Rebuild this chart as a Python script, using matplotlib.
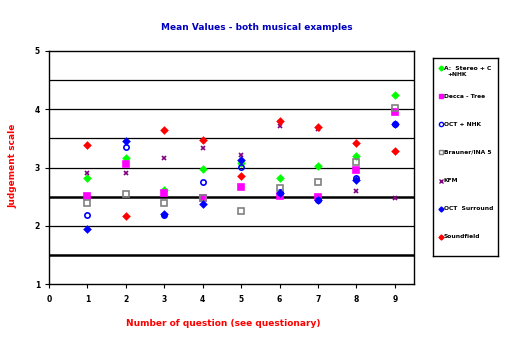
import matplotlib
matplotlib.use("Agg")
import matplotlib.pyplot as plt
import numpy as np

questions = [1, 2, 3, 4, 5, 6, 7, 8, 9]
series_names = ["A:  Stereo + C\n+NHK", "Decca - Tree", "OCT + NHK", "Brauner/INA 5",
                "KFM", "OCT  Surround", "Soundfield"]
a_stereo = [2.82, 3.17, 2.62, 2.97, 3.07, 2.82, 3.03, 3.20, 4.25]
decca = [2.51, 3.06, 2.57, 2.47, 2.67, 2.51, 2.49, 2.95, 3.95]
oct_nhk = [2.18, 3.36, 2.18, 2.75, 3.01, 2.58, 2.45, 2.82, 3.75]
brauner = [2.39, 2.54, 2.39, 2.48, 2.25, 2.65, 2.75, 3.09, 4.03]
kfm = [2.90, 2.90, 3.17, 3.33, 3.22, 3.71, 3.66, 2.59, 2.47]
oct_surround = [1.94, 3.45, 2.20, 2.37, 3.13, 2.57, 2.45, 2.78, 3.75]
soundfield = [3.39, 2.16, 3.65, 3.47, 2.85, 3.80, 3.69, 3.42, 3.29]

x_ticks = [0, 1, 2, 3, 4, 5, 6, 7, 8, 9]
y_ticks = [1, 2, 3, 4, 5]

title = "Mean Values - both musical examples"
xlabel = "Number of question (see questionary)"
ylabel = "Judgement scale"

styles = [
    dict(marker="D", color="#00ff00", mfc="#00ff00", ms=3.2),
    dict(marker="s", color="#ff00ff", mfc="#ff00ff", ms=3.8),
    dict(marker="o", color="#0000ff", mfc="none", ms=3.8),
    dict(marker="s", color="#808080", mfc="none", ms=3.8),
    dict(marker="x", color="#800080", mfc="#800080", ms=3),
    dict(marker="D", color="#0000ff", mfc="#0000ff", ms=3.2),
    dict(marker="D", color="#ff0000", mfc="#ff0000", ms=3.2),
]
data = [a_stereo, decca, oct_nhk, brauner, kfm, oct_surround, soundfield]

plt.rcParams['font.family'] = ['DejaVu Sans']
fig = plt.figure(figsize=(5.14, 3.54), dpi=100)
ax = fig.add_axes([49/514, 1-284/354, 365/514, 233/354])
ax.set_xlim(0, 9.5)
ax.set_ylim(1, 5)

for lvl in [1.5, 2, 2.5, 3, 3.5, 4, 4.5]:
    lw = 1.8 if lvl in (1.5, 2.5) else 0.9
    ax.axhline(lvl, color="black", lw=lw, zorder=1)

for vals, st in zip(data, styles):
    ax.plot(questions, vals, linestyle="none", marker=st["marker"], color=st["color"],
            mfc=st["mfc"], mec=st["color"], ms=st["ms"], mew=1.2, zorder=3)

ax.set_xticks(x_ticks)
ax.set_yticks(y_ticks)
ax.tick_params(axis="both", labelsize=5.5, length=3, width=0.8)
ax.tick_params(axis="x", direction="out", pad=5)
for lab in ax.get_xticklabels() + ax.get_yticklabels():
    lab.set_fontweight("bold")
for sp in ax.spines.values():
    sp.set_linewidth(1.0)

fig.text(257/514, 1-28/354, title, ha="center", va="center", color="#0000c0",
         fontsize=6.5, fontweight="bold")
fig.text(223/514, 1-323/354, xlabel, ha="center", va="center", color="#ff0000",
         fontsize=6.5, fontweight="bold")
fig.text(13/514, 1-166/354, ylabel, ha="center", va="center", color="#ff0000",
         fontsize=6.5, fontweight="bold", rotation=90)

# legend box
lax = fig.add_axes([433/514, 1-256/354, 65/514, 198/354])
lax.set_xlim(0, 65)
lax.set_ylim(198, 0)
lax.set_xticks([])
lax.set_yticks([])
for sp in lax.spines.values():
    sp.set_linewidth(1.0)
ys = [10, 38, 66, 94, 123, 151, 179]
for name, st, yy in zip(series_names, styles, ys):
    lax.plot([8], [yy], linestyle="none", marker=st["marker"], color=st["color"],
             mfc=st["mfc"], mec=st["color"], ms=st["ms"] * 0.8, mew=1.0)
    first, *rest = name.split("\n")
    lax.text(11, yy, first, ha="left", va="center", fontsize=4.3, fontweight="bold")
    if rest:
        lax.text(14, yy + 6, rest[0], ha="left", va="center", fontsize=4.3, fontweight="bold")

fig.savefig("out.png", dpi=100)
